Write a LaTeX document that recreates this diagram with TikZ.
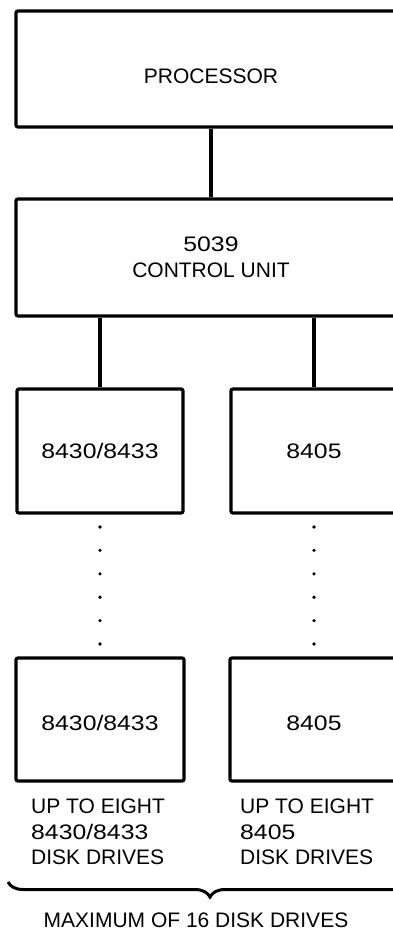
\documentclass[tikz,border=0pt]{standalone}
\usepackage{fontspec}
\setmainfont{Liberation Sans}
\newfontfamily\numfont{Liberation Sans}[FakeStretch=1.18]
\usetikzlibrary{positioning,decorations.pathreplacing}

\begin{document}
\begin{tikzpicture}[
  x=1pt, y=-1pt,
  every node/.style={font=\fontsize{21}{26}\selectfont},
  UNIT/.style={draw, line width=3.2pt, rounded corners=2pt,
               minimum width=390pt, minimum height=116pt,
               align=center},
  DRV/.style={draw, line width=3.2pt, rounded corners=2pt,
              minimum width=166pt, minimum height=124pt,
              align=center},
  NOTE/.style={anchor=north west, inner sep=0pt, align=left,
               font=\fontsize{21}{25.5}\selectfont},
  wire/.style={line width=3.2pt},
  dots/.style={line width=3.6pt, line cap=round,
               dash pattern=on 0pt off 23.4pt,
               shorten <=12.4pt, shorten >=11.4pt},
  brc/.style={line width=3pt, decorate,
              decoration={brace, mirror, amplitude=15pt}},
]

  % Page frame (boxes run off the right edge)
  \useasboundingbox (0,0) rectangle (393,936);
  \clip (0,0) rectangle (393,936);

  % Main nodes
  \node[UNIT, text height=29pt, text depth=0pt] (proc) at (211,69) {PROCESSOR};
  \node[UNIT, minimum height=117pt] (ctrl) at (211,257.5) {{\numfont 5039}\\CONTROL UNIT};

  \node[DRV] (lftTop) at (100,451) {\numfont 8430/8433};
  \node[DRV] (rgtTop) at (314,451) {\numfont 8405};

  \node[DRV, minimum width=168pt, minimum height=123pt,
        text height=22pt, text depth=0pt] (lftBot) at (100,719.5) {\numfont 8430/8433};
  \node[DRV, minimum width=168pt, minimum height=123pt,
        text height=22pt, text depth=0pt] (rgtBot) at (314,719.5) {\numfont 8405};

  % Connectors
  \draw[wire] (proc.south) -- (ctrl.north);
  \draw[wire] (lftTop.north |- ctrl.south) -- (lftTop.north);
  \draw[wire] (rgtTop.north |- ctrl.south) -- (rgtTop.north);

  \draw[dots] (lftTop.south) -- (lftBot.north);
  \draw[dots] (rgtTop.south) -- (rgtBot.north);

  % Labels
  \node[NOTE] (lftNote) at (31,799) {UP TO EIGHT\\{\numfont 8430/8433}\\DISK DRIVES};
  \node[NOTE] (rgtNote) at (240,799) {UP TO EIGHT\\{\numfont 8405}\\DISK DRIVES};

  % Brace
  \coordinate (brL) at (8,882);
  \coordinate (brR) at (412,882);
  \draw[brc] (brL) -- (brR);
  \node (total) at (196,920) {MAXIMUM OF 16 DISK DRIVES};

\end{tikzpicture}
\end{document}
